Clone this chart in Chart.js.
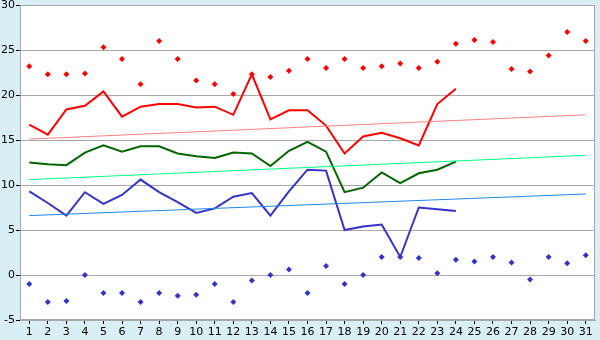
<!DOCTYPE html>
<html>
<head>
<meta charset="utf-8">
<script src="https://cdn.jsdelivr.net/npm/chart.js@4"></script>
<style>
  html, body { margin: 0; padding: 0; background: #d9eef5; }
  #wrap { width: 600px; height: 340px; }
</style>
</head>
<body>
<div id="wrap"><canvas id="tempChart"></canvas></div>
<script>
const BG_COLOR = "#d9eef5";
const GRID_COLOR = "#a8a8a8";
const TEXT_COLOR = "#000000";

const days = ["1", "2", "3", "4", "5", "6", "7", "8", "9", "10", "11", "12", "13", "14", "15", "16",
  "17", "18", "19", "20", "21", "22", "23", "24", "25", "26", "27", "28", "29", "30", "31"];

// daily values for the month so far (days 1-24)
const maxTemp = [16.7, 15.6, 18.4, 18.8, 20.4, 17.6, 18.7, 19.0, 19.0, 18.6, 18.7, 17.8, 22.3, 17.3,
  18.3, 18.3, 16.6, 13.5, 15.4, 15.8, 15.2, 14.4, 19.0, 20.7];
const meanTemp = [12.5, 12.3, 12.2, 13.6, 14.4, 13.7, 14.3, 14.3, 13.5, 13.2, 13.0, 13.6, 13.5, 12.1,
  13.8, 14.8, 13.7, 9.2, 9.7, 11.4, 10.2, 11.3, 11.7, 12.6];
const minTemp = [9.3, 8.0, 6.6, 9.2, 7.9, 8.9, 10.6, 9.2, 8.1, 6.9, 7.4, 8.7, 9.1, 6.6,
  9.3, 11.7, 11.6, 5.0, 5.4, 5.6, 2.0, 7.5, 7.3, 7.1];

// records for each day of the month
const recordMax = [23.2, 22.3, 22.3, 22.4, 25.3, 24.0, 21.2, 26.0, 24.0, 21.6, 21.2, 20.1, 22.3, 22.0,
  22.7, 24.0, 23.0, 24.0, 23.0, 23.2, 23.5, 23.0, 23.7, 25.7, 26.1, 25.9, 22.9, 22.6, 24.4, 27.0, 26.0];
const recordMin = [-1.0, -3.0, -2.9, 0.0, -2.0, -2.0, -3.0, -2.0, -2.3, -2.2, -1.0, -3.0, -0.6, 0.0,
  0.6, -2.0, 1.0, -1.0, 0.0, 2.0, 2.0, 1.9, 0.2, 1.7, 1.5, 2.0, 1.4, -0.5, 2.0, 1.3, 2.2];

// long-term normals: value on day 1 and on day 31
const maxNormal = [15.1, 17.8];
const meanNormal = [10.6, 13.3];
const minNormal = [6.6, 9.0];

const yTicks = [-5, 0, 5, 10, 15, 20, 25, 30];

function normalLine(ends) {
  const data = days.map(() => null);
  data[0] = ends[0];
  data[days.length - 1] = ends[1];
  return data;
}

function lineSet(data, color, width) {
  return {
    data: data,
    borderColor: color,
    backgroundColor: color,
    borderWidth: width,
    pointRadius: 0,
    tension: 0,
    spanGaps: true,
  };
}

function pointSet(data, color) {
  return {
    data: data,
    showLine: false,
    pointStyle: "rectRot",
    pointRadius: 3,
    pointBorderWidth: 0,
    pointBackgroundColor: color,
    borderColor: color,
  };
}

// white plot area with grey frame on a light blue page
const plotFrame = {
  id: "plotFrame",
  beforeDraw(chart) {
    const { ctx, chartArea: a } = chart;
    ctx.save();
    ctx.fillStyle = BG_COLOR;
    ctx.fillRect(0, 0, chart.width, chart.height);
    ctx.fillStyle = "#ffffff";
    ctx.fillRect(a.left, a.top, a.right - a.left, a.bottom - a.top);
    ctx.restore();
  },
  beforeDatasetsDraw(chart) {
    const { ctx, chartArea: a } = chart;
    ctx.save();
    ctx.strokeStyle = GRID_COLOR;
    ctx.lineWidth = 1;
    ctx.strokeRect(a.left + 0.5, a.top + 0.5, a.right - a.left - 1, a.bottom - a.top - 1);
    ctx.restore();
  },
};

new Chart(document.getElementById("tempChart"), {
  type: "line",
  data: {
    labels: days,
    datasets: [
      lineSet(normalLine(maxNormal), "#ff8080", 1),
      lineSet(normalLine(meanNormal), "#00ff80", 1),
      lineSet(normalLine(minNormal), "#1e88f0", 1),
      lineSet(maxTemp, "#ff0000", 2),
      lineSet(meanTemp, "#006600", 2),
      lineSet(minTemp, "#3333cc", 2),
      pointSet(recordMax, "#ff0000"),
      pointSet(recordMin, "#3333cc"),
    ],
  },
  options: {
    responsive: true,
    maintainAspectRatio: false,
    animation: false,
    layout: { padding: { top: 5, right: 5, left: 0, bottom: 0 } },
    plugins: {
      legend: { display: false },
      tooltip: { enabled: false },
    },
    scales: {
      x: {
        offset: true,
        grid: {
          drawOnChartArea: false,
          drawTicks: true,
          tickLength: 4,
          tickColor: TEXT_COLOR,
        },
        border: { color: GRID_COLOR },
        ticks: {
          color: TEXT_COLOR,
          font: { family: "DejaVu Sans", size: 11 },
          padding: 2,
          maxRotation: 0,
          autoSkip: false,
        },
        afterFit: (scale) => {
          scale.height = 20;
          scale.paddingLeft = 0;
          scale.paddingRight = 0;
        },
      },
      y: {
        min: yTicks[0],
        max: yTicks[yTicks.length - 1],
        afterBuildTicks: (scale) => { scale.ticks = yTicks.map((v) => ({ value: v })); },
        grid: {
          color: GRID_COLOR,
          tickColor: TEXT_COLOR,
          tickLength: 4,
        },
        border: { color: GRID_COLOR },
        ticks: {
          color: TEXT_COLOR,
          font: { family: "DejaVu Sans", size: 11 },
          padding: 1,
        },
        afterFit: (scale) => {
          scale.width = 20;
          scale.paddingTop = 0;
          scale.paddingBottom = 0;
        },
      },
    },
  },
  plugins: [plotFrame],
});
</script>
</body>
</html>
